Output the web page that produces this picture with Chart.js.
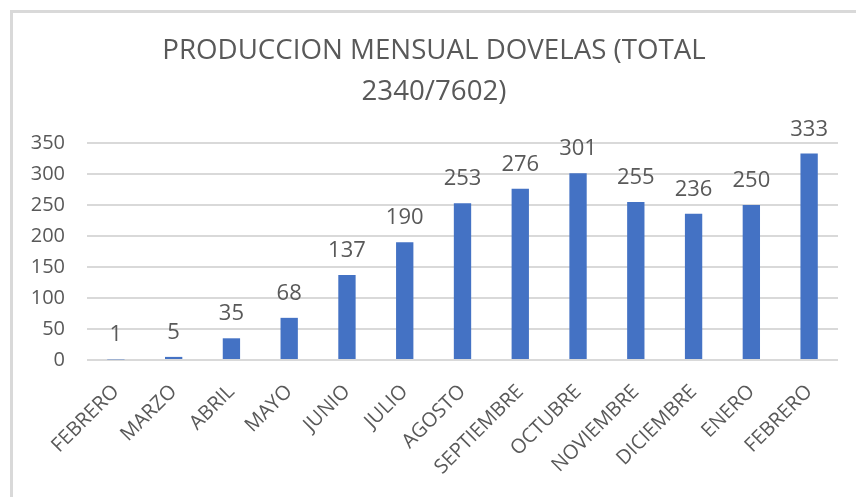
<!DOCTYPE html>
<html>
<head>
<meta charset="utf-8">
<script src="https://cdn.jsdelivr.net/npm/chart.js@4"></script>
<style>
  html, body { margin: 0; padding: 0; background: #ffffff; }
  #wrap { position: relative; width: 856px; height: 497px; }
</style>
</head>
<body>
<div id="wrap"><canvas id="produccionChart" width="856" height="497"></canvas></div>
<script>
// Monthly production data
const meses = ['FEBRERO', 'MARZO', 'ABRIL', 'MAYO', 'JUNIO', 'JULIO', 'AGOSTO',
  'SEPTIEMBRE', 'OCTUBRE', 'NOVIEMBRE', 'DICIEMBRE', 'ENERO', 'FEBRERO'];
const dovelas = [1, 5, 35, 68, 137, 190, 253, 276, 301, 255, 236, 250, 333];
const tituloLineas = ['PRODUCCION MENSUAL DOVELAS (TOTAL', '2340/7602)'];

const textColor = '#595959';
const gridColor = '#d9d9d9';
const barColor = '#4472c4';
const fontFamily = '"Open Sans", "Liberation Sans", sans-serif';

// Frame along the top and left edge of the chart
const frame = {
  id: 'frame',
  beforeDraw(chart) {
    const ctx = chart.ctx;
    ctx.save();
    ctx.fillStyle = gridColor;
    ctx.fillRect(10, 10, chart.width - 10, 3);
    ctx.fillRect(10, 10, 3, chart.height - 10);
    ctx.restore();
  }
};

// Value labels above every bar
const valueLabels = {
  id: 'valueLabels',
  afterDatasetsDraw(chart) {
    const ctx = chart.ctx;
    const meta = chart.getDatasetMeta(0);
    ctx.save();
    ctx.font = '22px ' + fontFamily;
    ctx.fillStyle = textColor;
    ctx.textAlign = 'center';
    ctx.textBaseline = 'alphabetic';
    meta.data.forEach((bar, i) => {
      ctx.fillText(String(dovelas[i]), bar.x, bar.y - 18);
    });
    ctx.restore();
  }
};

const ctx = document.getElementById('produccionChart').getContext('2d');
new Chart(ctx, {
  type: 'bar',
  data: {
    labels: meses,
    datasets: [{
      data: dovelas,
      backgroundColor: barColor,
      borderWidth: 0,
      categoryPercentage: 1,
      barPercentage: 0.3
    }]
  },
  options: {
    responsive: false,
    animation: false,
    layout: {
      padding: { left: 30, right: 18, top: 31, bottom: 0 }
    },
    plugins: {
      legend: { display: false },
      tooltip: { enabled: false },
      title: {
        display: true,
        text: tituloLineas,
        color: textColor,
        font: { family: fontFamily, size: 27.7, weight: 'normal', lineHeight: 1.48 },
        padding: { top: 0, bottom: 30 }
      }
    },
    scales: {
      x: {
        grid: { display: false, drawTicks: false },
        border: { display: false },
        ticks: {
          color: textColor,
          font: { family: fontFamily, size: 20 },
          maxRotation: 45,
          minRotation: 45,
          autoSkip: false,
          padding: 20
        },
        afterFit(scale) { scale.height = 137; }
      },
      y: {
        min: 0,
        max: 350,
        ticks: {
          stepSize: 50,
          color: textColor,
          font: { family: fontFamily, size: 20 },
          padding: 22
        },
        grid: { color: gridColor, lineWidth: 2, drawTicks: false },
        border: { display: false },
        afterFit(scale) { scale.width = 57; }
      }
    }
  },
  plugins: [frame, valueLabels]
});
</script>
</body>
</html>
